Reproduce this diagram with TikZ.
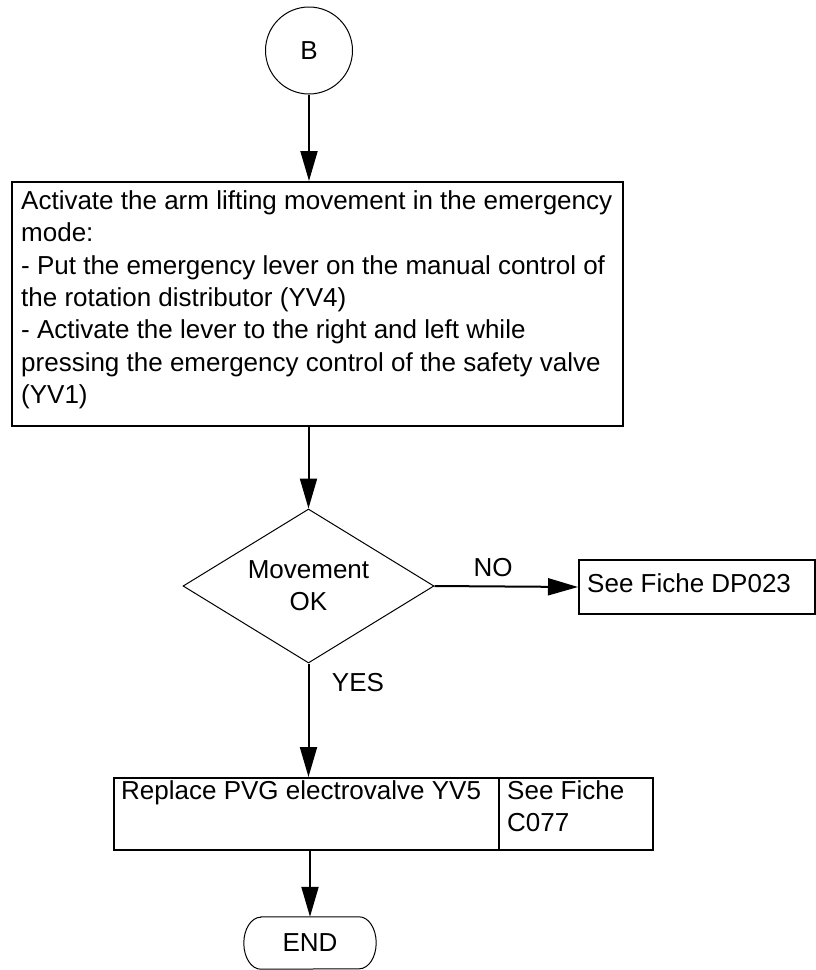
\documentclass[tikz,border=0pt]{standalone}
\usepackage{fontspec}
\setmainfont{Liberation Sans}
\usetikzlibrary{arrows.meta,shapes.geometric}
\begin{document}
\begin{tikzpicture}[x=1pt,y=-1pt,
  txt/.style={font=\fontsize{26}{32.3}\selectfont},
  box/.style={draw, line width=2pt, inner sep=0pt},
  thinline/.style={draw, line width=1pt},
  arr/.style={line width=2pt, -{Triangle[length=30pt,width=17pt]}},
]
\useasboundingbox (0,0) rectangle (816,970);
\clip (0,0) rectangle (816,970);

% start connector
\node[thinline, circle, minimum size=87pt, inner sep=0pt, txt] (b) at (309,50.5) {B};

% action box
\node[box, minimum width=611pt, minimum height=244pt, anchor=north west] (act) at (11,181) {};
\node[txt, anchor=north west, align=left, inner sep=0pt] (acttext) at (21,190.5)
{Activate the arm lifting movement in the emergency\\
mode:\\
- Put the emergency lever on the manual control of\\
the rotation distributor (YV4)\\
- Activate the lever to the right and left while\\
pressing the emergency control of the safety valve\\
(YV1)};

% decision
\node[thinline, diamond, shape aspect=1.63, minimum width=251pt, minimum height=154pt,
      inner sep=0pt, txt, align=center] (dec) at (308.5,586) {Movement\\OK};

% NO branch
\node[box, minimum width=236pt, minimum height=54pt, anchor=north west] (dp) at (578,559) {};
\node[txt, anchor=base west, inner sep=0pt] (dptext) at (587,592.3) {See Fiche DP023};

% replace box
\node[box, minimum width=385pt, minimum height=72pt, anchor=north west] (rep) at (113,777) {};
\node[box, minimum width=154pt, minimum height=72pt, anchor=north west] (seef) at (498,777) {};
\node[txt, anchor=base west, inner sep=0pt] (reptext) at (121,799.3) {Replace PVG electrovalve YV5};
\node[txt, anchor=north west, align=left, inner sep=0pt] (seeftext) at (507,780.5) {See Fiche\\C077};

% end terminal
\node[txt, minimum width=132pt, minimum height=52pt, inner sep=0pt] (end) at (310,943) {END};
\draw[line width=1pt] ([xshift=17pt]end.north west) -- ([xshift=-17pt]end.north east)
  arc[start angle=90, end angle=-90, x radius=17pt, y radius=26pt]
  -- ([xshift=17pt]end.south west)
  arc[start angle=270, end angle=90, x radius=17pt, y radius=26pt] -- cycle;

% labels
\node[txt] (no) at (493,568) {NO};
\node[txt] (yes) at (358,683) {YES};

% connectors
\draw[arr] (b.south) -- (b.south |- act.north);
\draw[arr] (dec.north |- act.south) -- (dec.north);
\draw[arr] (dec.east) -- (dp.west);
\draw[arr] (dec.south) -- (dec.south |- rep.north);
\draw[arr] (end.north |- rep.south) -- (end.north);
\end{tikzpicture}
\end{document}
